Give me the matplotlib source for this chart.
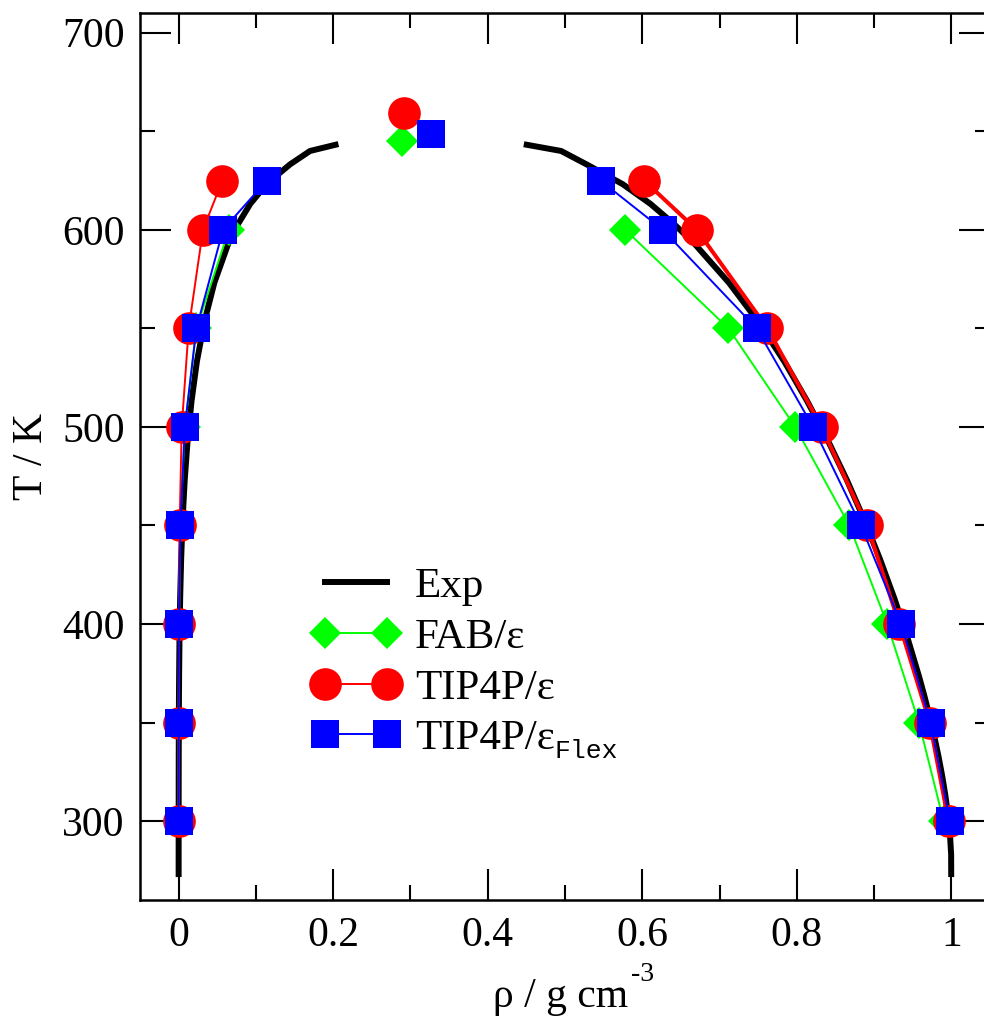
import numpy as np
import matplotlib
matplotlib.use('Agg')
import matplotlib.pyplot as plt
from matplotlib.ticker import MultipleLocator, FuncFormatter

plt.rcParams['font.family'] = ['Liberation Serif', 'DejaVu Serif']
plt.rcParams['mathtext.fontset'] = 'custom'
plt.rcParams['mathtext.rm'] = 'Liberation Serif'

# experimental coexistence curve (T in K, densities in g/cm3)
T_exp = [273.16, 283.15, 293.15, 303.15, 313.15, 323.15, 333.15, 343.15,
         353.15, 363.15, 373.15, 393.15, 413.15, 433.15, 453.15, 473.15,
         493.15, 513.15, 533.15, 553.15, 573.15, 593.15, 603.15, 613.15,
         623.15, 633.15, 640.0, 643.15]
rho_liq_exp = [0.99979, 0.99970, 0.99820, 0.99565, 0.99222, 0.98804, 0.98320,
               0.97776, 0.97179, 0.96531, 0.95835, 0.94312, 0.92609, 0.90741,
               0.88700, 0.86465, 0.84016, 0.81334, 0.78388, 0.75062, 0.71214,
               0.66709, 0.64045, 0.61058, 0.57471, 0.52814, 0.495, 0.45051]
rho_vap_exp = [0.0000049, 0.0000094, 0.0000173, 0.0000304, 0.0000512,
               0.0000831, 0.000130, 0.000198, 0.000293, 0.000424, 0.000598,
               0.00112, 0.00197, 0.00326, 0.00516, 0.00787, 0.0116, 0.0167,
               0.0236, 0.0332, 0.0462, 0.0644, 0.0772, 0.0927, 0.1136,
               0.1440, 0.170, 0.2030]

# FAB/epsilon
T_fab = [300, 350, 400, 450, 500, 550, 600]
rho_vap_fab = [0.0, 0.0, 0.0005, 0.002, 0.008, 0.023, 0.065]
rho_liq_fab = [0.990, 0.958, 0.917, 0.868, 0.798, 0.7115, 0.578]
crit_fab = (0.289, 645)

# TIP4P/epsilon
T_tip = [300, 350, 400, 450, 500, 550, 600, 625]
rho_vap_tip = [0.0, 0.0, 0.0005, 0.0013, 0.004, 0.013, 0.0315, 0.0566]
rho_liq_tip = [0.9963, 0.972, 0.9327, 0.891, 0.832, 0.762, 0.6706, 0.6024]
crit_tip = (0.2917, 659.5)

# TIP4P/epsilon flexible
T_flex = [300, 350, 400, 450, 500, 550, 600, 625]
rho_vap_flex = [0.0, 0.0, 0.0003, 0.0024, 0.008, 0.023, 0.0574, 0.114]
rho_liq_flex = [0.998, 0.973, 0.935, 0.883, 0.821, 0.748, 0.6266, 0.546]
crit_flex = (0.326, 648.6)

W, H = 984, 1018
fig = plt.figure(figsize=(W / 100, H / 100), dpi=100)
ax = fig.add_axes([140 / W, 1 - 900 / H, 850 / W, 887 / H])

# exp
ax.plot(rho_vap_exp, T_exp, color='black', lw=4.3, zorder=2, label='Exp')
ax.plot(rho_liq_exp, T_exp, color='black', lw=4.3, zorder=2)

green = '#00ff00'
sty_fab = dict(color=green, marker='D', ms=16.5, mec=green, mew=0, zorder=3)
ax.plot(rho_vap_fab, T_fab, lw=1.4, label='FAB/ε', **sty_fab)
ax.plot(rho_liq_fab, T_fab, lw=1.4, **sty_fab)
ax.plot(*crit_fab, ls='none', **sty_fab)

red = '#ff0000'
sty_tip = dict(color=red, marker='o', ms=23.5, mec=red, mew=0, zorder=4)
ax.plot(rho_vap_tip, T_tip, lw=1.4, label='TIP4P/ε', **sty_tip)
ax.plot(rho_liq_tip, T_tip, lw=2.9, **sty_tip)
ax.plot(*crit_tip, ls='none', **sty_tip)

blue = '#0000ff'
sty_flex = dict(color=blue, marker='s', ms=20, mec=blue, mew=0, zorder=5)
ax.plot(rho_vap_flex, T_flex, lw=1.4, label='TIP4P/ε', **sty_flex)
ax.plot(rho_liq_flex, T_flex, lw=1.4, **sty_flex)
ax.plot(*crit_flex, ls='none', **sty_flex)

ax.set_xlim(-0.05, 1.05)
ax.set_ylim(260, 710)
ax.xaxis.set_major_locator(MultipleLocator(0.2))
ax.xaxis.set_minor_locator(MultipleLocator(0.1))
ax.yaxis.set_major_locator(MultipleLocator(100))
ax.yaxis.set_minor_locator(MultipleLocator(50))
ax.xaxis.set_major_formatter(FuncFormatter(lambda v, p: f'{v:g}'))

ax.tick_params(which='both', direction='in', top=True, right=True, width=1.5, labelsize=30)
ax.tick_params(which='major', length=22)
ax.tick_params(which='minor', length=11)
ax.tick_params(axis='x', pad=12)
ax.tick_params(axis='y', pad=11)
for s in ax.spines.values():
    s.set_linewidth(1.8)

ax.set_ylabel('T / K', fontsize=30, labelpad=8)
xlab = ax.set_xlabel('ρ / g cm', fontsize=30)
ax.xaxis.set_label_coords(0.495, -0.087)
ax.xaxis.label.set_va('top')

leg = ax.legend(loc='upper left', bbox_to_anchor=(312 / W, 1 - 567 / H),
                bbox_transform=fig.transFigure, frameon=False, fontsize=31,
                numpoints=2, handlelength=2.04, handletextpad=0.35,
                labelspacing=0.27, borderpad=0, borderaxespad=0)

fig.canvas.draw()
r = fig.canvas.get_renderer()
bb = leg.get_texts()[3].get_window_extent(r)
fig.text(bb.x1 / W, bb.y0 / H, 'Flex', family='Liberation Mono', fontsize=19,
         va='baseline', ha='left')
bb = xlab.get_window_extent(r)
fig.text(bb.x1 / W + 0.003, (bb.y0 + 35) / H, '-3', fontsize=20,
         va='baseline', ha='left')

fig.savefig('out.png', dpi=100)
